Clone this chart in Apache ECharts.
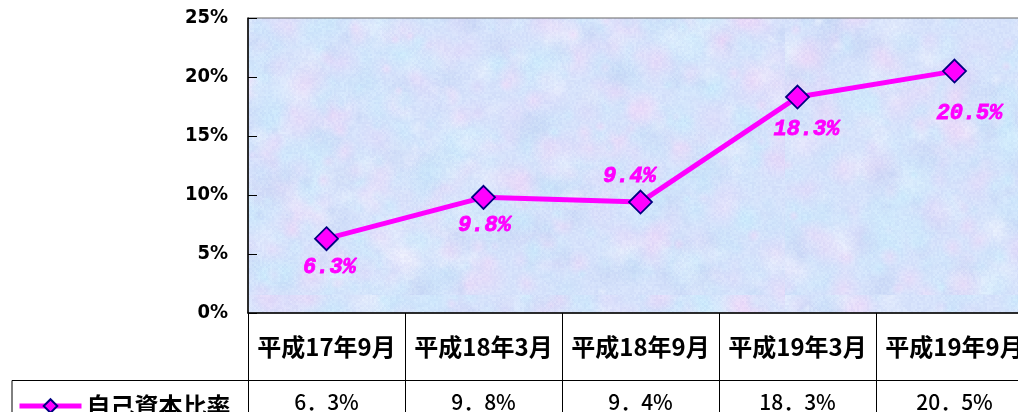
<!DOCTYPE html>
<html>
<head>
<meta charset="utf-8">
<script src="https://cdn.jsdelivr.net/npm/echarts@6/dist/echarts.min.js"></script>
<style>
  html, body { margin: 0; padding: 0; background: #ffffff; }
  #chart { width: 1018px; height: 412px; }
</style>
</head>
<body>
<div id="chart"></div>
<script>
// Half-year periods and the equity ratio (%) at each
const categories = ['平成17年9月', '平成18年3月', '平成18年9月', '平成19年3月', '平成19年9月'];
const equityRatio = [6.3, 9.8, 9.4, 18.3, 20.5];
const seriesName = '自己資本比率';
const yMin = 0, yMax = 25, yStep = 5;

// Where each point's label sits relative to its marker
const labelPlacement = [
  { position: 'bottom', distance: 5, offset: [3, 0] },
  { position: 'bottom', distance: 5, offset: [1, 0] },
  { position: 'top', distance: 2, offset: [-11, 0] },
  { position: 'bottom', distance: 9, offset: [9, 0] },
  { position: 'bottom', distance: 19, offset: [15, 0] }
];

// Mottled pastel fill for the plot area (deterministic)
function makeTexture(w, h) {
  const c = document.createElement('canvas');
  c.width = w; c.height = h;
  const g = c.getContext('2d');
  g.fillStyle = 'rgb(214,226,251)';
  g.fillRect(0, 0, w, h);
  let s = 20071;
  const rnd = () => (s = (s * 1103515245 + 12345) & 0x7fffffff) / 0x7fffffff;
  const tints = [[242, 214, 248], [198, 236, 252], [196, 212, 244], [226, 216, 250], [236, 241, 253], [205, 234, 252], [200, 228, 250]];
  for (let i = 0; i < 1100; i++) {
    const x = rnd() * w, y = rnd() * h, r = 5 + rnd() * 20;
    const t = tints[Math.floor(rnd() * tints.length)];
    const grd = g.createRadialGradient(x, y, 0, x, y, r);
    grd.addColorStop(0, 'rgba(' + t.join(',') + ',0.5)');
    grd.addColorStop(1, 'rgba(' + t.join(',') + ',0)');
    g.fillStyle = grd;
    g.beginPath(); g.arc(x, y, r, 0, Math.PI * 2); g.fill();
  }
  const img = g.getImageData(0, 0, w, h);
  const d = img.data;
  for (let y = 0; y < h; y += 2) {
    for (let x = 0; x < w; x += 2) {
      const n = (rnd() - 0.5) * 10;
      for (let dy = 0; dy < 2 && y + dy < h; dy++) {
        for (let dx = 0; dx < 2 && x + dx < w; dx++) {
          const k = ((y + dy) * w + (x + dx)) * 4;
          d[k] = Math.max(0, Math.min(255, d[k] + n));
          d[k + 1] = Math.max(0, Math.min(255, d[k + 1] + n));
          d[k + 2] = Math.max(0, Math.min(255, d[k + 2] + n * 0.4));
        }
      }
    }
  }
  g.putImageData(img, 0, 0);
  return c;
}

const chart = echarts.init(document.getElementById('chart'), null, { renderer: 'canvas' });
const MAGENTA = '#ff00ff';
const NAVY = '#000080';
const fmtRow = v => v.toFixed(1).replace('.', '．') + '%';

const option = {
  animation: false,
  backgroundColor: '#ffffff',
  grid: {
    left: 248, top: 18, width: 785, height: 295,
    outerBoundsMode: 'none',
    containLabel: false,
    show: true,
    backgroundColor: { image: makeTexture(785, 295), repeat: 'repeat' },
    borderColor: '#666666', borderWidth: 1
  },
  legend: {
    left: 12, top: 389,
    itemWidth: 62, itemHeight: 17, itemGap: 6,
    data: [seriesName],
    lineStyle: { width: 5, color: MAGENTA },
    textStyle: { fontFamily: 'Noto Sans CJK JP', fontWeight: 'bold', fontSize: 24, color: '#000' }
  },
  xAxis: [
    {
      type: 'category',
      data: categories,
      boundaryGap: true,
      axisLine: { show: true, lineStyle: { color: '#000', width: 1.5 } },
      axisTick: { show: true, inside: false, length: 99, interval: 0, lineStyle: { color: '#000', width: 1 } },
      axisLabel: {
        interval: 0, margin: 22,
        fontFamily: 'Noto Sans CJK JP', fontWeight: 'bold', fontSize: 24, color: '#000'
      },
      splitLine: { show: false }
    },
    {
      type: 'category',
      position: 'bottom',
      data: equityRatio.map(fmtRow),
      boundaryGap: true,
      axisLine: { show: false },
      axisTick: { show: false },
      axisLabel: {
        interval: 0, margin: 79,
        fontFamily: 'Noto Sans CJK JP', fontWeight: 500, fontSize: 21, color: '#000'
      },
      splitLine: { show: false }
    }
  ],
  yAxis: {
    type: 'value',
    min: yMin, max: yMax, interval: yStep,
    axisLine: { show: true, lineStyle: { color: '#000', width: 1.5 } },
    axisTick: { show: true, inside: true, length: 9, lineStyle: { color: '#000' } },
    axisLabel: {
      margin: 20,
      formatter: v => v + '%',
      fontFamily: '"Liberation Sans Narrow", "DejaVu Sans Condensed", sans-serif',
      fontWeight: 'bold', fontSize: 20, color: '#000'
    },
    splitLine: { show: false }
  },
  series: [{
    name: seriesName,
    type: 'line',
    xAxisIndex: 0,
    data: equityRatio.map((v, i) => ({ value: v, label: labelPlacement[i] })),
    symbol: 'diamond',
    symbolSize: 23,
    lineStyle: { color: MAGENTA, width: 5 },
    itemStyle: { color: MAGENTA, borderColor: NAVY, borderWidth: 1.8 },
    label: {
      show: true,
      formatter: p => p.value.toFixed(1) + '%',
      fontFamily: '"Liberation Mono", "DejaVu Sans Mono", monospace',
      fontStyle: 'italic', fontWeight: 'bold', fontSize: 22, color: MAGENTA,
      textBorderColor: MAGENTA, textBorderWidth: 0.8
    },
    z: 5
  }],
  graphic: [
    {
      type: 'polyline',
      shape: { points: [[12, 412], [12, 380.5], [1018, 380.5]] },
      style: { stroke: '#000', lineWidth: 1, fill: null },
      silent: true
    }
  ]
};
chart.setOption(option);
</script>
</body>
</html>
